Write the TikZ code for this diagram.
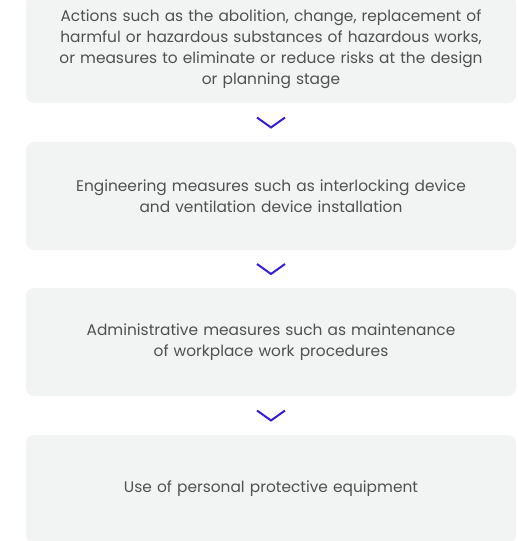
\documentclass[tikz,border=0pt]{standalone}
\usepackage{fontspec}
\setmainfont{Poppins}
\usetikzlibrary{calc}
\definecolor{boxfill}{RGB}{242,243,243}
\definecolor{txt}{RGB}{80,80,80}
\definecolor{chev}{RGB}{52,30,215}
\begin{document}
\begin{tikzpicture}[x=1pt,y=-1pt,
  stage/.style={draw=none, fill=boxfill, rounded corners=8pt, minimum width=490pt, minimum height=108pt,
    text width=470pt, align=center, text=txt, font=\fontsize{15.4}{21}\selectfont, inner sep=0pt},
  chevline/.style={draw=chev, line width=2pt, line join=miter}]
\useasboundingbox (0,0) rectangle (517,541);
\clip (0,0) rectangle (517,541);
\node[stage] (b1) at (271,49) {Actions such as the abolition, change, replacement of\\harmful or hazardous substances of hazardous works,\\or measures to eliminate or reduce risks at the design\\or planning stage};
\node[stage] (b2) at (271,196) {Engineering measures such as interlocking device\\and ventilation device installation};
\node[stage] (b3) at (271,342) {Administrative measures such as maintenance\\of workplace work procedures};
\node[stage] (b4) at (271,489) {Use of personal protective equipment};
\foreach \a/\b/\n in {b1/b2/c1,b2/b3/c2,b3/b4/c3}{
  \coordinate (\n) at ($(\a.south)!0.5!(\b.north)$);
  \draw[chevline] ([shift={(-14,-5)}]\n) -- ([shift={(0,5)}]\n) -- ([shift={(14,-5)}]\n);
}
\end{tikzpicture}
\end{document}
